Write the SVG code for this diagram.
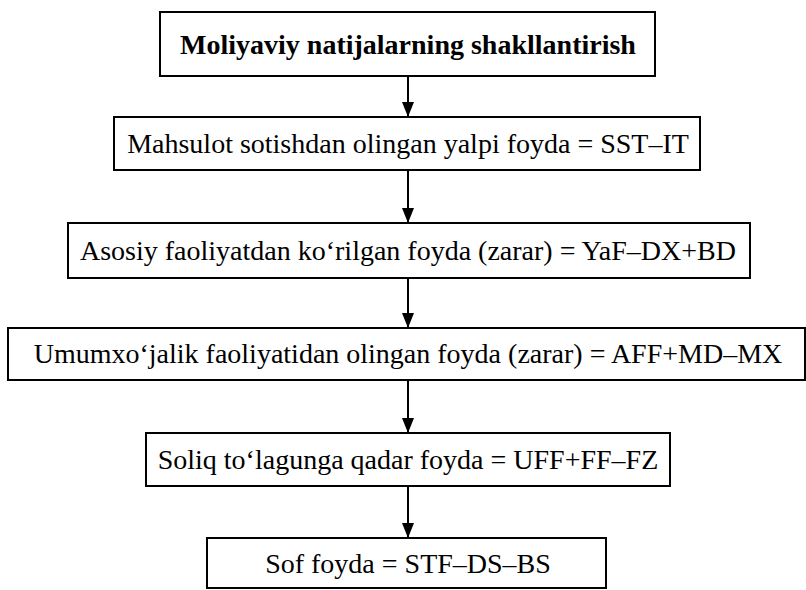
<svg xmlns="http://www.w3.org/2000/svg" width="806" height="590" viewBox="0 0 806 590">
  <style>
    .box { fill: #ffffff; stroke: #000000; stroke-width: 2; }
    .t { font-family: "Liberation Serif", "Times New Roman", serif; font-size: 28px; fill: #000000; text-anchor: middle; }
    .b { font-weight: bold; }
    .conn { stroke: #000000; stroke-width: 2; fill: none; marker-end: url(#arr); }
  </style>
  <defs>
    <marker id="arr" markerWidth="15" markerHeight="12" refX="15" refY="6" orient="auto" markerUnits="userSpaceOnUse" viewBox="0 0 15 12">
      <path d="M0,0 L15,6 L0,12 Z" fill="#000000"/>
    </marker>
  </defs>
  <rect width="806" height="590" fill="#ffffff"/>

  <g id="connectors">
    <path class="conn" d="M408,76 V117"/>
    <path class="conn" d="M408,170 V223"/>
    <path class="conn" d="M408,278 V328"/>
    <path class="conn" d="M408,380 V433"/>
    <path class="conn" d="M408,486 V538"/>
  </g>

  <g id="n1">
    <rect class="box" x="160" y="12" width="495" height="64"/>
    <text class="t b" x="408" y="54">Moliyaviy natijalarning shakllantirish</text>
  </g>
  <g id="n2">
    <rect class="box" x="114" y="117" width="586" height="53"/>
    <text class="t" x="408" y="153">Mahsulot sotishdan olingan yalpi foyda = SST–IT</text>
  </g>
  <g id="n3">
    <rect class="box" x="68" y="223" width="682" height="55"/>
    <text class="t" x="408" y="260">Asosiy faoliyatdan ko‘rilgan foyda (zarar) = YaF–DX+BD</text>
  </g>
  <g id="n4">
    <rect class="box" x="8" y="328" width="797" height="52"/>
    <text class="t" x="408" y="363">Umumxo‘jalik faoliyatidan olingan foyda (zarar) = AFF+MD–MX</text>
  </g>
  <g id="n5">
    <rect class="box" x="146" y="433" width="524" height="53"/>
    <text class="t" x="408" y="469">Soliq to‘lagunga qadar foyda = UFF+FF–FZ</text>
  </g>
  <g id="n6">
    <rect class="box" x="207" y="538" width="399" height="50"/>
    <text class="t" x="408" y="573">Sof foyda = STF–DS–BS</text>
  </g>
</svg>
